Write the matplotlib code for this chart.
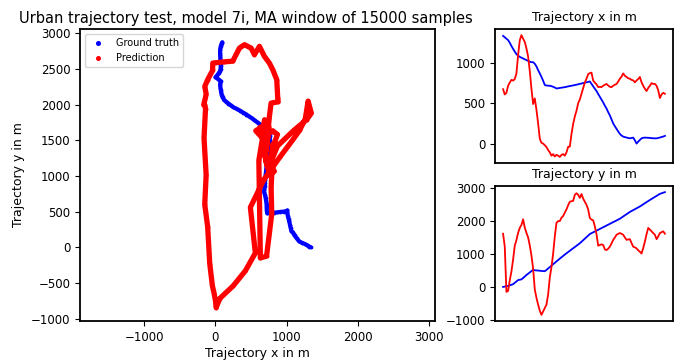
import matplotlib
matplotlib.use("Agg")
import matplotlib.pyplot as plt
from matplotlib.ticker import FixedLocator

# sample index (time) for all series
samples = list(range(0, 98))

gt_x = [1335, 1318, 1300, 1283, 1250, 1210, 1174, 1140, 1109, 1090, 1075, 1065, 1055, 1045, 1035, 1025,
        1015, 1009, 1009, 990, 957, 910, 870, 826, 780, 726, 720, 718, 717, 712, 704, 695, 683, 686, 690,
        693, 696, 700, 704, 709, 713, 717, 721, 726, 730, 735, 740, 745, 750, 755, 760, 765, 770, 740,
        710, 680, 652, 615, 580, 545, 510, 470, 435, 390, 350, 300, 250, 215, 183, 150, 120, 100, 87, 80,
        75, 70, 65, 70, 74, 40, 0, 25, 45, 65, 72, 74, 73, 72, 70, 68, 66, 65, 65, 70, 75, 82, 87, 96]
gt_y = [0, 10, 20, 31, 48, 65, 83, 125, 165, 207, 218, 228, 270, 315, 362, 400, 440, 480, 517, 505, 500,
        496, 490, 485, 480, 476, 515, 560, 600, 645, 690, 730, 775, 815, 858, 900, 940, 980, 1020, 1058,
        1096, 1135, 1172, 1210, 1248, 1286, 1324, 1370, 1417, 1463, 1510, 1556, 1603, 1630, 1655, 1680,
        1706, 1732, 1758, 1784, 1810, 1836, 1862, 1888, 1913, 1940, 1965, 1990, 2016, 2042, 2068, 2102,
        2137, 2172, 2206, 2240, 2275, 2302, 2330, 2357, 2385, 2412, 2440, 2473, 2506, 2540, 2572, 2605,
        2637, 2668, 2700, 2730, 2760, 2792, 2823, 2840, 2858, 2875]
pred_x = [674, 609, 630, 717, 757, 790, 781, 800, 870, 1100, 1280, 1345, 1300, 1260, 1180, 1080, 900, 680,
          490, 560, 420, 250, 60, 10, 0, -20, -43, -80, -109, -150, -130, -160, -139, -150, -165, -140,
          -130, -150, -109, -40, -37, 120, 243, 337, 407, 500, 547, 617, 687, 757, 804, 860, 874, 880, 781,
          757, 734, 700, 704, 700, 717, 730, 739, 720, 704, 700, 717, 730, 739, 770, 804, 830, 870, 840,
          826, 810, 804, 790, 783, 760, 783, 800, 826, 760, 717, 680, 652, 690, 717, 750, 739, 740, 717,
          660, 565, 609, 630, 617]
pred_y = [1613, 1220, -150, -124, 200, 470, 829, 1250, 1420, 1640, 1790, 1880, 2050, 1800, 1640, 1500,
          1260, 950, 560, -80, -330, -540, -720, -848, -745, -641, -538, -228, 290, 600, 1013, 1530, 1944,
          1996, 1996, 2099, 2151, 2254, 2350, 2480, 2583, 2600, 2610, 2794, 2841, 2794, 2700, 2818, 2677,
          2583, 2490, 2350, 2092, 2040, 2022, 1835, 1600, 1250, 1272, 1290, 1272, 1138, 1117, 1160, 1220,
          1320, 1427, 1500, 1582, 1610, 1634, 1610, 1582, 1500, 1427, 1440, 1448, 1330, 1220, 1200, 1169,
          1110, 1065, 1013, 1180, 1375, 1600, 1789, 1740, 1686, 1630, 1582, 1448, 1531, 1634, 1660, 1686,
          1613]

main_xticks = [-1000, 0, 1000, 2000, 3000]
main_yticks = [-1000, -500, 0, 500, 1000, 1500, 2000, 2500, 3000]
top_yticks = [0, 500, 1000]
bottom_yticks = [-1000, 0, 1000, 2000, 3000]

W, H = 683, 360
fig = plt.figure(figsize=(W / 100, H / 100), dpi=100)

def rect(l, t, r, b):
    return [l / W, 1 - b / H, (r - l) / W, (b - t) / H]

tick_fs = 8.5
lab_fs = 9

ax = fig.add_axes(rect(80, 29, 435, 321))
ax.plot(gt_x, gt_y, color="blue", lw=3.0, solid_joinstyle="round", solid_capstyle="round", zorder=2)
ax.scatter(gt_x, gt_y, s=3, color="blue", label="Ground truth", zorder=2)
ax.plot(pred_x, pred_y, color="red", lw=3.8, solid_joinstyle="round", solid_capstyle="round", zorder=3)
ax.scatter(pred_x, pred_y, s=3, color="red", label="Prediction", zorder=3)
ax.set_aspect("equal", adjustable="datalim")
ax.xaxis.set_major_locator(FixedLocator(main_xticks))
ax.yaxis.set_major_locator(FixedLocator(main_yticks))
ax.tick_params(labelsize=tick_fs)
ax.set_xlabel("Trajectory x in m", fontsize=lab_fs, labelpad=2)
ax.set_ylabel("Trajectory y in m", fontsize=lab_fs)
ax.legend(loc="upper left", fontsize=7, markerscale=1.5, handletextpad=0.8)
for s in ax.spines.values():
    s.set_linewidth(1.3)

fig.text(246 / W, 1 - 18 / H, "Urban trajectory test, model 7i, MA window of 15000 samples",
         ha="center", va="center", fontsize=10.5)

ax1 = fig.add_axes(rect(495, 29, 673, 163))
ax1.plot(samples, gt_x, color="blue", lw=1.3)
ax1.plot(samples, pred_x, color="red", lw=1.3)
ax1.set_xticks([])
ax1.yaxis.set_major_locator(FixedLocator(top_yticks))
ax1.tick_params(labelsize=tick_fs)
ax1.set_title("Trajectory x in m", fontsize=lab_fs)

ax2 = fig.add_axes(rect(495, 186, 673, 321))
ax2.plot(samples, gt_y, color="blue", lw=1.3)
ax2.plot(samples, pred_y, color="red", lw=1.3)
ax2.set_xticks([])
ax2.yaxis.set_major_locator(FixedLocator(bottom_yticks))
ax2.tick_params(labelsize=tick_fs)
ax2.set_title("Trajectory y in m", fontsize=lab_fs)
for a in (ax1, ax2):
    for s in a.spines.values():
        s.set_linewidth(1.3)

fig.savefig("out.png", dpi=100)
